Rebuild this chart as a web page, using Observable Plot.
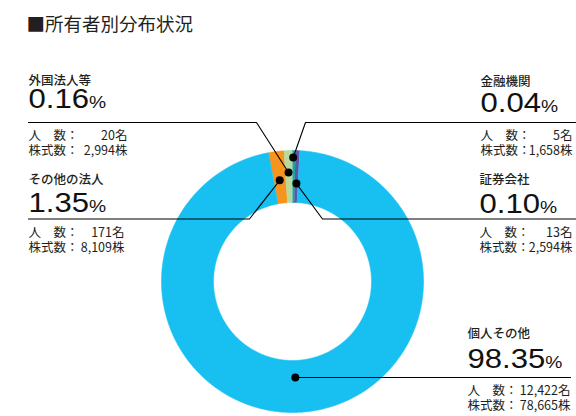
<!DOCTYPE html>
<html><head><meta charset="utf-8">
<script src="https://cdn.jsdelivr.net/npm/d3@7"></script>
<script src="https://cdn.jsdelivr.net/npm/@observablehq/plot@0.6"></script>
<style>body{margin:0;background:#fff}</style>
</head><body><div id="chart"></div>
<script>
// ---- data ----
const title = "■所有者別分布状況";
const categories = ["その他の法人", "外国法人等", "金融機関", "証券会社", "個人その他"];
const percents = [1.35, 0.16, 0.04, 0.10, 98.35];
const persons = [171, 20, 5, 13, 12422];
const shares = [8109, 2994, 1658, 2594, 78665];
// arc widths as drawn in the picture, in degrees (the small slices are enlarged there)
const drawnDegrees = [6.8, 3.8, 1.3, 1.8, 346.3];
const colors = ["#f7941d", "#b6da9e", "#13a8a1", "#5b56a8", "#18c0f1"];
const rowLabels = ["人　数：", "株式数："];
const rowUnits = ["名", "株"];

// ---- layout ----
const W = 576, H = 416;
const cx = 292, cy = 281, rOuter = 131, rInner = 79;
const startDeg = -10.6;
const cjk = "'Noto Sans CJK JP', 'Noto Sans CJK SC', sans-serif";
const latin = "'Liberation Sans', Arial, Helvetica, sans-serif";
const ink = "#231f20";
const layout = {
  "その他の法人": {x0: 28, x1: 124, nameY: 183, pctY: 211, lineY: 218.5, lineEnd: 28, bendX: 249, dotR: 102, dotFrac: 0.5},
  "外国法人等":   {x0: 28, x1: 127, nameY: 84,  pctY: 107, lineY: 122,   lineEnd: 28, bendX: 256, dotR: 109, dotFrac: 0.45},
  "金融機関":     {x0: 480, x1: 572, nameY: 85,  pctY: 111, lineY: 122,   lineEnd: 576, bendX: 305, dotR: 124, dotFrac: 0.25},
  "証券会社":     {x0: 479, x1: 572, nameY: 183, pctY: 212, lineY: 218.5, lineEnd: 576, bendX: 322, dotR: 98, dotFrac: 0.55},
  "個人その他":   {x0: 467, x1: 570, nameY: 337, pctY: 367, lineY: 377,   lineEnd: 570, bendX: null, dotR: 96, dotFrac: 0.506}
};

const rad = Math.PI / 180;
const polar = (a, r) => ({x: cx + r * Math.sin(a), y: cy - r * Math.cos(a)});
const arcs = d3.pie().sort(null).value(d => d)
  .startAngle(startDeg * rad).endAngle(startDeg * rad + 2 * Math.PI)(drawnDegrees);

// ring polygons
const ringPts = [];
arcs.forEach((a, i) => {
  const name = categories[i];
  const n = Math.max(4, Math.ceil((a.endAngle - a.startAngle) / (0.4 * rad)));
  for (let k = 0; k <= n; k++) {
    const t = a.startAngle + (a.endAngle - a.startAngle) * k / n;
    ringPts.push({name, ...polar(t, rOuter)});
  }
  for (let k = n; k >= 0; k--) {
    const t = a.startAngle + (a.endAngle - a.startAngle) * k / n;
    ringPts.push({name, ...polar(t, rInner)});
  }
});

// annotation blocks
const blocks = categories.map((name, i) => {
  const L = layout[name];
  const a = arcs[i];
  const dot = polar(a.startAngle + (a.endAngle - a.startAngle) * L.dotFrac, L.dotR);
  return {name, pct: percents[i], persons: persons[i], shares: shares[i], dot, ...L};
});
const leaderPts = [];
blocks.forEach(b => {
  if (b.bendX == null) {
    leaderPts.push({name: b.name, x: b.dot.x, y: b.dot.y}, {name: b.name, x: b.lineEnd, y: b.dot.y});
  } else {
    leaderPts.push({name: b.name, x: b.lineEnd, y: b.lineY}, {name: b.name, x: b.bendX, y: b.lineY}, {name: b.name, x: b.dot.x, y: b.dot.y});
  }
});
const fmt = d3.format(",");
const rowsLeft = [], rowsRight = [];
blocks.forEach(b => {
  const vals = [b.persons, b.shares];
  [17.5, 32.5].forEach((off, j) => {
    rowsLeft.push({x: b.x0, y: b.lineY + off, text: rowLabels[j]});
    rowsRight.push({x: b.x1, y: b.lineY + off, text: fmt(vals[j]) + rowUnits[j]});
  });
});

const svg = Plot.plot({
  width: W, height: H, margin: 0,
  x: {domain: [0, W], range: [0, W], axis: null},
  y: {domain: [0, H], range: [0, H], axis: null},
  color: {domain: categories, range: colors},
  style: {background: "#fff"},
  marks: [
    Plot.line(ringPts, {x: "x", y: "y", z: "name", fill: "name", stroke: "name", strokeWidth: 0.6, curve: "linear"}),
    Plot.line(leaderPts, {x: "x", y: "y", z: "name", stroke: "#000", strokeWidth: 1.1}),
    Plot.dot(blocks, {x: d => d.dot.x, y: d => d.dot.y, r: 4, fill: "#000"}),
    Plot.text([{x: 26, y: 30, t: title}], {x: "x", y: "y", text: "t", textAnchor: "start", lineAnchor: "bottom", fontSize: 18.5, fontFamily: cjk, fill: ink}),
    Plot.text(blocks, {x: "x0", y: "nameY", text: "name", textAnchor: "start", lineAnchor: "bottom", fontSize: 12.5, fontWeight: 500, fontFamily: cjk, fill: ink}),
    Plot.text(blocks, {x: "x0", y: "pctY", text: d => d.pct.toFixed(2) + "%", textAnchor: "start", lineAnchor: "bottom", fontSize: 27, fontFamily: latin, fill: "#111", className: "pct"}),
    Plot.text(rowsLeft, {x: "x", y: "y", text: "text", textAnchor: "start", lineAnchor: "bottom", fontSize: 12.5, fontFamily: cjk, fill: ink}),
    Plot.text(rowsRight, {x: "x", y: "y", text: "text", textAnchor: "end", lineAnchor: "bottom", fontSize: 12.5, fontFamily: cjk, fill: ink})
  ]
});
document.getElementById("chart").append(svg);

// smaller % sign and slightly extended numerals
d3.select(svg).selectAll("g.pct text").each(function () {
  const s = this.textContent;
  if (s.endsWith("%")) {
    this.textContent = s.slice(0, -1);
    d3.select(this).append("tspan").attr("font-size", "0.62em").text("%");
  }
  const t = this.getAttribute("transform");
  if (t) this.setAttribute("transform", t + " scale(1.15,1)");
});
</script>
</body></html>
